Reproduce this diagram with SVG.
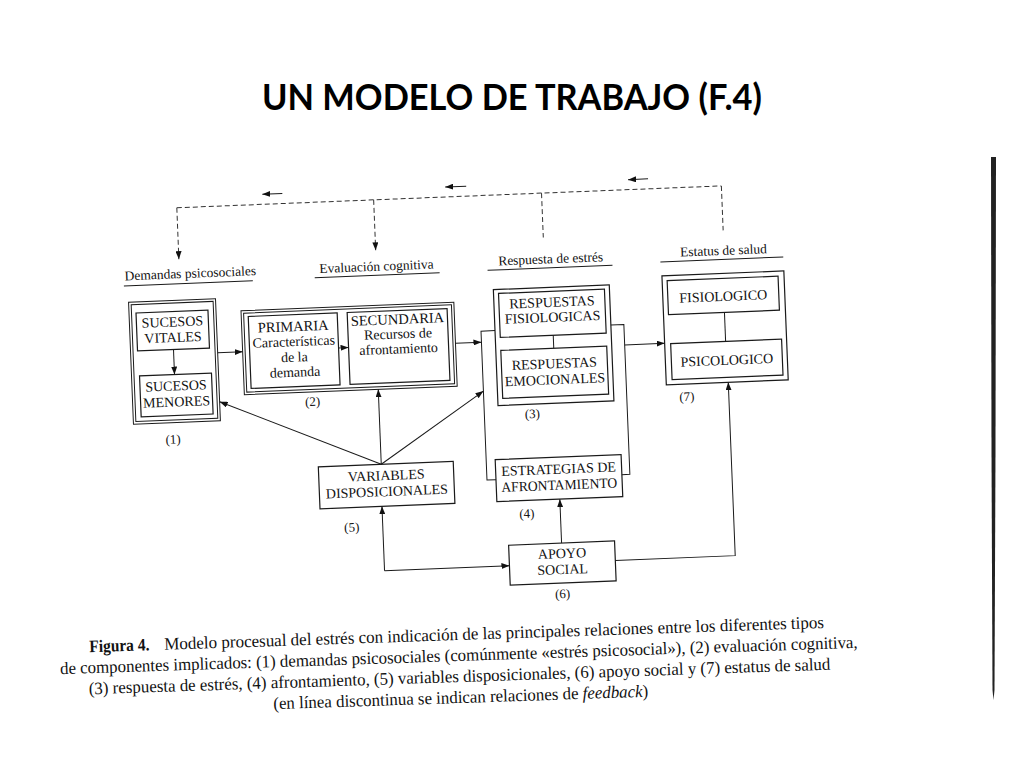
<svg xmlns="http://www.w3.org/2000/svg" width="1024" height="768" viewBox="0 0 1024 768">
<defs>
<marker id="ah" viewBox="0 0 8 6" refX="8" refY="3" markerWidth="8" markerHeight="6" orient="auto-start-reverse" markerUnits="userSpaceOnUse"><path d="M0,0 L8,3 L0,6 z" fill="#111"/></marker>
<style>
.bx{fill:none;stroke:#1a1a1a;stroke-width:1.2}
.bd{fill:none;stroke:#1a1a1a;stroke-width:1}
.ln{fill:none;stroke:#1a1a1a;stroke-width:1}
.ar{fill:none;stroke:#1a1a1a;stroke-width:1;marker-end:url(#ah)}
.fb{fill:none;stroke:#333;stroke-width:1;stroke-dasharray:5 3}
.t{font-family:"Liberation Serif","Times New Roman",serif;font-size:14px;fill:#111;text-anchor:middle}
.tl{font-family:"Liberation Serif","Times New Roman",serif;font-size:13px;fill:#111;text-anchor:middle}
.h{font-family:"Liberation Serif","Times New Roman",serif;font-size:13.5px;fill:#111}
.c{font-family:"Liberation Serif","Times New Roman",serif;font-size:17.5px;fill:#111}
</style>
</defs>
<rect width="1024" height="768" fill="#fff"/>
<text x="262" y="110" textLength="500" lengthAdjust="spacingAndGlyphs" style="font-family:Lato,'Liberation Sans',sans-serif;font-weight:bold;font-size:36px;fill:#000">UN MODELO DE TRABAJO (F.4)</text>

<g transform="rotate(-2.3 512 430)">
<g id="feedback">
<path class="fb" d="M186,194.5 H731"/>
<path class="fb" d="M186,194.5 V246" marker-end="url(#ah)"/>
<path class="fb" d="M383,194.5 V245" marker-end="url(#ah)"/>
<path class="fb" d="M551,194.5 V239"/>
<path class="fb" d="M731,194.5 V239"/>
<path class="ar" d="M292,184.5 H272"/>
<path class="ar" d="M476,184.5 H455"/>
<path class="ar" d="M658,184.5 H638"/>
</g>
<g id="headings">
<text class="h" x="131" y="265">Demandas psicosociales</text>
<path class="ln" d="M130,270.5 H259"/>
<text class="h" x="326" y="265.5">Evaluación cognitiva</text>
<path class="ln" d="M321,270 H446"/>
<text class="h" x="505" y="265">Respuesta de estrés</text>
<path class="ln" d="M494,269.5 H619"/>
<text class="h" x="687" y="263.5">Estatus de salud</text>
<path class="ln" d="M667,268 H790"/>
</g>
<g id="connectors">
<path class="ar" d="M177,336 V361"/>
<path class="ar" d="M221,341 H246"/>
<path class="ar" d="M342,341 H352"/>
<path class="ar" d="M459,341 H485"/>
<path class="ln" d="M499,330 H485 V479 H494"/>
<path class="ln" d="M615,329 H628 V479 H620"/>
<path class="ar" d="M628,349.5 H668"/>
<path class="ln" d="M557,337 V350"/>
<path class="ln" d="M729,321 V350"/>
<path class="ar" d="M380,459 L221,390"/>
<path class="ar" d="M380,459 V384"/>
<path class="ar" d="M380,459 L485,390"/>
<path class="ar" d="M379,565.5 V501" />
<path class="ar" d="M379,565.5 H504"/>
<path class="ar" d="M557,545 V501"/>
<path class="ar" d="M610,564.5 H730 V391"/>
</g>
<g id="n1">
<rect class="bd" x="134" y="287" width="87" height="122"/>
<rect class="bd" x="136.5" y="289.5" width="82" height="117"/>
<g id="n1a">
<rect class="bx" x="141" y="298" width="72" height="38"/>
<text class="t" x="177" y="313">SUCESOS</text>
<text class="t" x="177" y="328.5">VITALES</text>
</g>
<g id="n1b">
<rect class="bx" x="142" y="361" width="72" height="41"/>
<text class="t" x="178" y="377">SUCESOS</text>
<text class="t" x="178" y="393">MENORES</text>
</g>
<text class="tl" x="173" y="430">(1)</text>
</g>
<g id="n2">
<rect class="bd" x="246" y="300" width="213" height="84"/>
<rect class="bd" x="248.5" y="302.5" width="208" height="79"/>
<g id="n2a">
<rect class="bx" x="253" y="306" width="89" height="72"/>
<text class="t" x="297.5" y="322.5" style="font-size:14.5px">PRIMARIA</text>
<text class="t" x="297.5" y="337.5">Características</text>
<text class="t" x="297.5" y="353">de la</text>
<text class="t" x="297.5" y="368">demanda</text>
</g>
<g id="n2b">
<rect class="bx" x="352" y="306" width="100" height="72"/>
<text class="t" x="402" y="319.5" style="font-size:14.5px">SECUNDARIA</text>
<text class="t" x="402" y="334">Recursos de</text>
<text class="t" x="402" y="349">afrontamiento</text>
</g>
<text class="tl" x="314" y="398">(2)</text>
</g>
<g id="n3">
<rect class="bx" x="499" y="289" width="116" height="116"/>
<g id="n3a">
<rect class="bx" x="504" y="293" width="106" height="44"/>
<text class="t" x="557" y="308.5">RESPUESTAS</text>
<text class="t" x="557" y="323.5">FISIOLOGICAS</text>
</g>
<g id="n3b">
<rect class="bx" x="504" y="350" width="106" height="48"/>
<text class="t" x="557" y="370">RESPUESTAS</text>
<text class="t" x="557" y="386">EMOCIONALES</text>
</g>
<text class="tl" x="533" y="419">(3)</text>
</g>
<g id="n4">
<rect class="bx" x="494" y="459" width="126" height="42"/>
<text class="t" x="557" y="475.5">ESTRATEGIAS DE</text>
<text class="t" x="557" y="491.5" textLength="116" lengthAdjust="spacingAndGlyphs">AFRONTAMIENTO</text>
<text class="tl" x="523.5" y="518.5">(4)</text>
</g>
<g id="n5">
<rect class="bx" x="317" y="459" width="135" height="42"/>
<text class="t" x="384.5" y="475">VARIABLES</text>
<text class="t" x="384.5" y="491">DISPOSICIONALES</text>
<text class="tl" x="348" y="525">(5)</text>
</g>
<g id="n6">
<rect class="bx" x="504" y="545" width="106" height="40"/>
<text class="t" x="557" y="560">APOYO</text>
<text class="t" x="557" y="576">SOCIAL</text>
<text class="tl" x="556" y="600">(6)</text>
</g>
<g id="n7">
<rect class="bx" x="668" y="282" width="122" height="109"/>
<g id="n7a">
<rect class="bx" x="673" y="287" width="111" height="34"/>
<text class="t" x="728.5" y="309.5">FISIOLOGICO</text>
</g>
<g id="n7b">
<rect class="bx" x="674" y="350" width="111" height="36"/>
<text class="t" x="729.5" y="373.5">PSICOLOGICO</text>
</g>
<text class="tl" x="688" y="408">(7)</text>
</g>
</g>

<g id="caption" transform="rotate(-1.9 460 660)">
<text class="c" x="90" y="640" textLength="60" lengthAdjust="spacingAndGlyphs" style="font-weight:bold">Figura 4.</text>
<text class="c" x="165" y="640" textLength="660" lengthAdjust="spacingAndGlyphs">Modelo procesual del estrés con indicación de las principales relaciones entre los diferentes tipos</text>
<text class="c" x="60" y="661" textLength="798" lengthAdjust="spacingAndGlyphs">de componentes implicados: (1) demandas psicosociales (comúnmente «estrés psicosocial»), (2) evaluación cognitiva,</text>
<text class="c" x="88" y="682" textLength="742" lengthAdjust="spacingAndGlyphs">(3) respuesta de estrés, (4) afrontamiento, (5) variables disposicionales, (6) apoyo social y (7) estatus de salud</text>
<text class="c" x="272" y="703" textLength="375" lengthAdjust="spacingAndGlyphs">(en línea discontinua se indican relaciones de <tspan font-style="italic">feedback</tspan>)</text>
</g>

<polygon points="991,157 996,157 995.5,450 994.5,690 993.5,700 992.5,690 991.5,450" fill="#222"/>
</svg>
